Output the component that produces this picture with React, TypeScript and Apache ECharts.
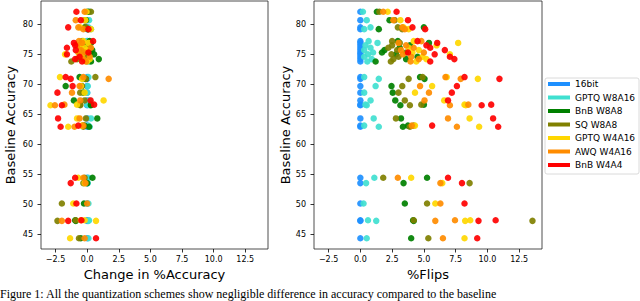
import React, { useEffect, useRef } from "react";
import * as echarts from "echarts";

const methods = ["16bit", "GPTQ W8A16", "BnB W8A8", "SQ W8A8", "GPTQ W4A16", "AWQ W4A16", "BnB W4A4"];
const colors = ["#1E90FF", "#40E0D0", "#008000", "#808000", "#FFD700", "#FF8C00", "#FF0000"];

const baseline = [82.1, 80.7, 79.5, 79.2, 77.2, 76.9, 76.5, 76.1, 75.7, 75.3, 75.0, 74.6, 74.2, 73.8, 71.2, 70.9, 69.7, 68.6, 67.3, 66.5, 64.3, 62.9, 54.4, 53.5, 50.1, 47.2, 44.3, 66.6, 63.1, 47.3];

const change16 = [0, 0, 0, 0, 0, 0, 0, 0, 0, 0, 0, 0, 0, 0, 0, 0, 0, 0, 0, 0, 0, 0, 0, 0, 0, 0, 0, 0, 0, 0];
const flips16 = [0, 0, 0, 0, 0, 0, 0, 0, 0, 0, 0, 0, 0, 0, 0, 0, 0, 0, 0, 0, 0, 0, 0, 0, 0, 0, 0, 0, 0, 0];

const changeGptq8 = [0.2, 0.15, 0.1, 0.3, 0.0, 0.15, 0.1, 0.2, -0.1, 0.0, 0.1, 0.0, -0.2, 0.15, 0.1, -0.3, 0.05, 0.0, 0.2, 0.2, 0.3, 0.2, 0.1, 0.05, 0.1, 0.1, 0.1, 0.0, 0.1, 0.15];
const flipsGptq8 = [0.2, 0.5, 0.8, 0.3, 0.65, 1.35, 0.4, 0.8, 0.3, 1.0, 0.6, 0.3, 0.9, 0.55, 0.3, 1.45, 1.2, 0.3, 0.8, 0.5, 1.05, 1.45, 1.1, 0.45, 0.25, 1.25, 0.5, 0.4, 0.3, 0.6];

const changeBnb8 = [0.1, -0.1, -0.2, 0.05, 0.2, 0.3, -0.3, 0.1, 0.4, 0.2, 0.55, -0.1, 0.92, 0.3, -0.6, -0.1, -1.7, -0.3, -1.05, 0.3, 0.8, 0.15, 0.42, 0.0, -0.25, -0.9, -0.5, 0.3, -0.2, -0.95];
const flipsBnb8 = [1.3, 2.3, 5.0, 1.45, 2.95, 5.4, 3.9, 3.1, 1.9, 1.7, 2.8, 4.5, 3.6, 1.2, 4.7, 5.05, 2.45, 2.55, 2.75, 3.15, 3.2, 3.35, 5.25, 3.4, 3.5, 4.2, 4.0, 5.0, 3.75, 4.15];

const changeSq8 = [0.3, -0.2, -0.1, 0.1, -0.4, 0.1, -0.6, 0.2, -0.3, 0.0, -0.5, 0.1, -0.8, -1.25, 0.65, -0.1, -0.4, -0.55, -0.2, -0.55, -0.1, -0.3, -0.2, -0.3, -2.0, -2.35, -0.65, -0.55, -0.35, -0.9];
const flipsSq8 = [1.5, 2.7, 2.95, 3.3, 2.5, 3.1, 2.5, 2.2, 2.9, 3.6, 2.45, 3.0, 2.6, 2.4, 4.9, 3.8, 3.3, 3.0, 3.5, 3.9, 2.8, 3.9, 1.8, 8.6, 5.25, 13.55, 5.35, 4.8, 4.2, 4.2];

const changeGptq4 = [-0.05, -0.15, -0.55, 0.3, -0.3, 0.1, -0.5, -0.2, 0.0, -0.7, -1.75, -0.4, 0.2, 0.0, -2.15, -0.4, -0.5, -0.2, 1.3, -2.9, -0.8, -1.5, -0.7, -0.2, -1.1, 0.7, -1.35, -0.8, -0.4, -0.2];
const flipsGptq4 = [2.15, 3.15, 3.4, 3.8, 4.2, 7.7, 6.0, 3.8, 4.6, 4.1, 7.05, 4.9, 5.2, 4.4, 6.8, 9.25, 5.65, 4.3, 6.6, 8.3, 8.6, 9.35, 4.0, 6.45, 5.9, 8.25, 8.2, 8.2, 4.3, 8.65];

const changeAwq4 = [-0.2, -0.9, -0.7, -0.3, -0.65, -0.4, -0.8, 0.3, -0.5, -0.2, -0.6, 0.2, -0.3, -0.1, -0.3, 1.7, -0.6, -1.2, -0.55, -2.55, -0.6, -1.0, -0.3, -0.13, 0.0, -2.0, -0.2, -1.8, -0.3, -0.5];
const flipsAwq4 = [1.8, 2.6, 3.3, 3.5, 4.8, 3.0, 3.6, 4.2, 3.2, 5.0, 3.35, 4.0, 4.6, 3.95, 6.7, 7.9, 4.7, 5.4, 5.05, 7.05, 6.9, 7.6, 2.95, 6.3, 6.3, 5.9, 6.5, 8.5, 4.05, 7.45];

const changeBnb4 = [-0.85, -0.5, -1.5, 0.1, 0.47, -1.05, -0.95, -1.6, -0.9, 0.1, -1.6, -0.6, -0.95, -0.4, -1.7, -1.3, -1.15, -2.35, 0.27, -2.0, -2.3, -2.1, -0.95, -1.3, -0.85, -1.5, 0.7, 0.55, -0.7, -0.45];
const flipsBnb4 = [2.85, 3.75, 4.1, 5.1, 4.5, 6.05, 5.2, 5.5, 6.65, 3.75, 5.85, 7.05, 7.4, 5.5, 8.2, 10.95, 7.6, 7.2, 6.9, 9.55, 10.45, 10.85, 6.9, 8.0, 8.2, 9.3, 9.2, 10.3, 5.65, 10.65];

const changes = [change16, changeGptq8, changeBnb8, changeSq8, changeGptq4, changeAwq4, changeBnb4];
const flips = [flips16, flipsGptq8, flipsBnb8, flipsSq8, flipsGptq4, flipsAwq4, flipsBnb4];

const xTicks = [-2.5, 0, 2.5, 5, 7.5, 10, 12.5];
const yTicks = [45, 50, 55, 60, 65, 70, 75, 80];

const caption = "Figure 1: All the quantization schemes show negligible difference in accuracy compared to the baseline";

const FONT = "DejaVu Sans";

function fmtX(v: number) {
  const s = Math.abs(v).toFixed(1);
  return v < 0 ? "\u2212" + s : s;
}

export default function App() {
  const ref = useRef<HTMLDivElement>(null);
  useEffect(() => {
    if (!ref.current) return;
    const chart = echarts.init(ref.current, null, { renderer: "svg" });

    const xAxisBase = (gridIndex: number, name: string) => ({
      type: "value",
      gridIndex,
      min: -3.65,
      max: 14.3,
      name,
      nameLocation: "middle",
      nameGap: 18,
      nameTextStyle: { fontFamily: FONT, fontSize: 13, color: "#000" },
      axisLine: { show: false, onZero: false },
      splitLine: { show: false },
      axisTick: { show: true, length: 3.5, customValues: xTicks, lineStyle: { color: "#000", width: 0.8 } },
      axisLabel: {
        customValues: xTicks,
        margin: 6,
        fontFamily: FONT,
        fontSize: 8,
        color: "#000",
        formatter: (v: number) => fmtX(v),
      },
    });
    const yAxisBase = (gridIndex: number, nameGap: number) => ({
      type: "value",
      gridIndex,
      position: "left",
      min: 42.5,
      max: 83.9,
      name: "Baseline Accuracy",
      nameLocation: "middle",
      nameGap,
      nameTextStyle: { fontFamily: FONT, fontSize: 13, color: "#000" },
      axisLine: { show: false, onZero: false },
      splitLine: { show: false },
      axisTick: { show: true, length: 3.5, customValues: yTicks, lineStyle: { color: "#000", width: 0.8 } },
      axisLabel: {
        customValues: yTicks,
        margin: 8,
        fontFamily: FONT,
        fontSize: 8,
        color: "#000",
        formatter: (v: number) => String(v),
      },
    });

    const series: any[] = [];
    methods.forEach((m, k) => {
      series.push({
        type: "scatter",
        name: m,
        xAxisIndex: 0,
        yAxisIndex: 0,
        symbolSize: 6.5,
        itemStyle: { color: colors[k], opacity: 0.92 },
        data: baseline.map((b, i) => [changes[k][i], b]),
      });
    });
    methods.forEach((m, k) => {
      series.push({
        type: "scatter",
        name: m,
        xAxisIndex: 1,
        yAxisIndex: 1,
        symbolSize: 6.5,
        itemStyle: { color: colors[k], opacity: 0.92 },
        data: baseline.map((b, i) => [flips[k][i], b]),
      });
    });

    const legendTop = 84;
    const legendStep = 13.5;
    const legendEls: any[] = [
      {
        type: "rect",
        shape: { x: 545, y: 78, width: 94, height: 96, r: 2 },
        style: { fill: "#fff", stroke: "#d0d0d0", lineWidth: 0.8 },
        z: 10,
      },
    ];
    methods.forEach((m, k) => {
      const cy = legendTop + k * legendStep;
      legendEls.push({
        type: "rect",
        shape: { x: 548, y: cy - 2, width: 22, height: 4 },
        style: { fill: colors[k] },
        z: 11,
      });
      legendEls.push({
        type: "text",
        x: 575,
        y: cy,
        style: { text: m, fontFamily: FONT, fontSize: 9, fill: "#000", verticalAlign: "middle", align: "left" },
        z: 11,
      });
    });
    legendEls.push({
      type: "text",
      x: 0,
      y: 288,
      style: {
        text: caption,
        fontFamily: "Liberation Serif",
        fontSize: 12,
        fill: "#000",
        verticalAlign: "top",
        align: "left",
      },
      z: 11,
    });

    chart.setOption({
      animation: false,
      backgroundColor: "#fff",
      grid: [
        { left: 41, top: 1, width: 227, height: 248, show: true, borderColor: "#222", borderWidth: 0.8, backgroundColor: "transparent" },
        { left: 314, top: 1, width: 228, height: 248, show: true, borderColor: "#222", borderWidth: 0.8, backgroundColor: "transparent" },
      ],
      xAxis: [xAxisBase(0, "Change in %Accuracy"), xAxisBase(1, "%Flips")],
      yAxis: [yAxisBase(0, 24), yAxisBase(1, 22)],
      series,
      graphic: legendEls,
    });
    return () => chart.dispose();
  }, []);
  return <div ref={ref} style={{ position: "absolute", left: 0, top: 0, width: 640, height: 301 }} />;
}
